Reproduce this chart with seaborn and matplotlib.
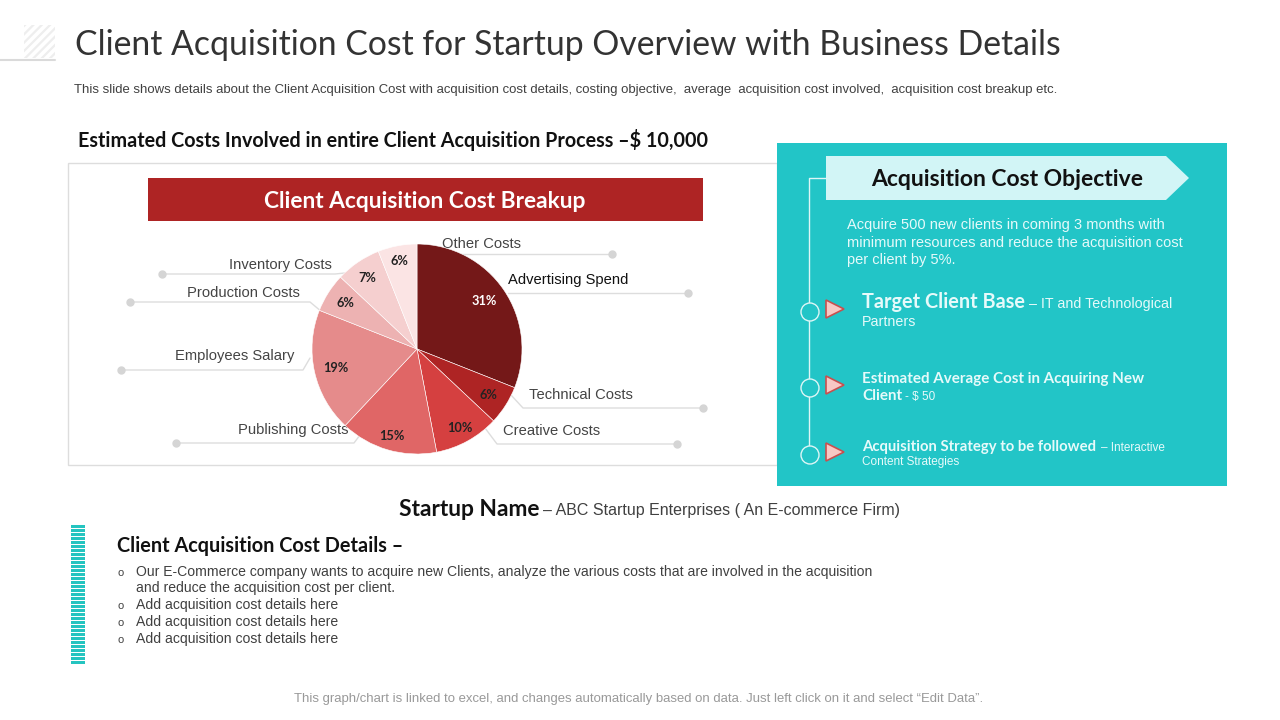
# libraries to use
import matplotlib
matplotlib.use('Agg')
import matplotlib.pyplot as plt
from matplotlib.patches import Rectangle, Polygon, Circle
import seaborn as sns

# Pie data
cost_labels = ['Advertising Spend', 'Technical Costs', 'Creative Costs', 'Publishing Costs',
               'Employees Salary', 'Production Costs', 'Inventory Costs', 'Other Costs']
cost_values = [31, 6, 10, 15, 19, 6, 7, 6]
pie_colors = ['#741818', '#AE2424', '#D54040', '#E06666', '#E58B8B', '#EDB2B2', '#F5CFCF', '#FBE4E4']
pct_colors = ['white', '#222222', '#222222', '#222222', '#222222', '#222222', '#222222', '#222222']
# Small shift of each percent label (pie units)
pct_nudge = [(-0.03, 0), (0, 0), (0.02, -0.04), (-0.01, -0.05), (0.02, 0), (0, 0), (-0.02, 0.01), (-0.02, 0.04)]

# Label position (x, y, ha) and leader line points, in slide pixels
label_spots = [(508, 280, 'left'), (529, 395, 'left'), (503, 431, 'left'), (349, 430, 'right'),
               (294, 356, 'right'), (300, 293, 'right'), (332, 265, 'right'), (442, 244, 'left')]
leaders = [[(508, 293), (688, 293)],
           [(511, 395), (523, 408), (703, 408)],
           [(485, 428), (497, 444), (677, 444)],
           [(360, 435), (354, 443), (176, 443)],
           [(310, 358), (303, 370), (121, 370)],
           [(322, 312), (310, 302), (130, 302)],
           [(345, 273), (335, 274), (162, 274)],
           [(455, 254), (612, 254)]]

title = 'Client Acquisition Cost for Startup Overview with Business Details'
subtitle = ('This slide shows details about the Client Acquisition Cost with acquisition cost details, costing objective, '
            ' average  acquisition cost involved,  acquisition cost breakup etc.')
estimate = 'Estimated Costs Involved in entire Client Acquisition Process –$ 10,000'
objective_lines = ['Acquire 500 new clients in coming 3 months with',
                   'minimum resources and reduce the acquisition cost',
                   'per client by 5%.']
detail_lines = [('o', 'Our E-Commerce company wants to acquire new Clients, analyze the various costs that are involved in the acquisition'),
                ('', 'and reduce the acquisition cost per client.'),
                ('o', 'Add acquisition cost details here'),
                ('o', 'Add acquisition cost details here'),
                ('o', 'Add acquisition cost details here')]
detail_y = [572, 588, 605, 622, 639]
footer = 'This graph/chart is linked to excel, and changes automatically based on data. Just left click on it and select “Edit Data”.'

TEAL = '#22C5C7'
HEAD = 'Lato'
BODY = 'Liberation Sans'

sns.set_theme(style='white')
plt.rcParams['hatch.linewidth'] = 1.6
plt.rcParams['hatch.color'] = '#EEEEEE'

fig = plt.figure(figsize=(12.8, 7.2), dpi=100, facecolor='white')
# Slide canvas in pixel units
ax = fig.add_axes([0, 0, 1, 1])
ax.set_xlim(0, 1280)
ax.set_ylim(720, 0)
ax.axis('off')

# Header
ax.add_patch(Rectangle((24, 25), 31, 33, facecolor='white', edgecolor='#EEEEEE', hatch='////', lw=0))
ax.plot([0, 55], [60, 60], color='#DADADA', lw=1.5)
ax.text(75, 45, title, family=HEAD, fontsize=24.3, color='#333333', va='center')
ax.text(74, 90, subtitle, family=BODY, fontsize=9.43, color='#404040', va='center')
ax.text(78, 140, estimate, family=HEAD, fontsize=14.2, weight='bold', color='#111111', va='center')

# Chart frame and banner
ax.add_patch(Rectangle((68, 163), 709, 302, facecolor='white', edgecolor='#DDDDDD', lw=1))
ax.add_patch(Rectangle((148, 178), 555, 43, facecolor='#AE2424', edgecolor='none'))
ax.text(425, 201, 'Client Acquisition Cost Breakup', family=HEAD, fontsize=16.4, weight='bold',
        color='white', ha='center', va='center')

# Leader lines and labels
for pts, spot, name in zip(leaders, label_spots, cost_labels):
    xs = [p[0] for p in pts]
    ys = [p[1] for p in pts]
    ax.plot(xs, ys, color='#DDDDDD', lw=1, zorder=2)
    ax.plot(xs[-1], ys[-1], 'o', color='#D5D5D5', ms=5, zorder=2)
    text_color = '#111111' if name == 'Advertising Spend' else '#444444'
    ax.text(spot[0], spot[1], name, family=BODY, fontsize=10.6, color=text_color, ha=spot[2], va='center', zorder=5)

# Pie chart
pie_ax = fig.add_axes([(417 - 105) / 1280, (720 - 349 - 105) / 720, 210 / 1280, 210 / 720])
pie_ax.patch.set_alpha(0)
wedges, _, pcts = pie_ax.pie(cost_values, colors=pie_colors, startangle=90, counterclock=False, radius=1,
                             autopct='%d%%', pctdistance=0.81,
                             wedgeprops={'edgecolor': 'white', 'linewidth': 0.4})
for pct, c, nudge in zip(pcts, pct_colors, pct_nudge):
    pct.set_color(c)
    pct.set_fontsize(9.2)
    pct.set_fontweight('bold')
    pct.set_family(HEAD)
    x0, y0 = pct.get_position()
    pct.set_position((x0 + nudge[0], y0 + nudge[1]))
pie_ax.set_xlim(-1, 1)
pie_ax.set_ylim(-1, 1)

# Objective panel
ax.add_patch(Rectangle((777, 143), 450, 343, facecolor=TEAL, edgecolor='none'))
ax.plot([826, 809, 809], [178, 178, 446], color='#DDF6F6', lw=1)
ax.add_patch(Polygon([(826, 156), (1166, 156), (1189, 178), (1166, 200), (826, 200)], facecolor='#D2F5F6', edgecolor='none'))
ax.text(1007, 180, 'Acquisition Cost Objective', family=HEAD, fontsize=16.5, weight='bold', color='#111111', ha='center', va='center')
for i, line in enumerate(objective_lines):
    ax.text(847, 225 + i * 17.5, line, family=BODY, fontsize=10.55, color='#E6FAFA', va='center')
for cy in [312, 388, 455]:
    ax.add_patch(Circle((810, cy), 9, facecolor=TEAL, edgecolor='#DDF6F6', lw=1, zorder=3))
    ty = cy - 3
    ax.add_patch(Polygon([(826, ty - 9), (844, ty), (826, ty + 9)], facecolor='#F8C8C4', edgecolor='#C8504F', lw=1.2, zorder=3))

ax.text(862, 302, 'Target Client Base', family=HEAD, fontsize=14.3, weight='bold', color='#E6FAFA', va='center')
ax.text(1029, 304, '– IT and Technological', family=BODY, fontsize=10.3, color='#E6FAFA', va='center')
ax.text(862, 322, 'Partners', family=BODY, fontsize=10.3, color='#E6FAFA', va='center')
ax.text(862, 379, 'Estimated Average Cost in Acquiring New', family=HEAD, fontsize=10.9, weight='bold', color='#E6FAFA', va='center')
ax.text(862, 396, 'Client', family=HEAD, fontsize=10.9, weight='bold', color='#E6FAFA', va='center')
ax.text(905, 397, '- $ 50', family=BODY, fontsize=8.5, color='#E6FAFA', va='center')
ax.text(862, 447, 'Acquisition Strategy to be followed', family=HEAD, fontsize=10.7, weight='bold', color='#E6FAFA', va='center')
ax.text(1101, 448, '– Interactive', family=BODY, fontsize=8.5, color='#E6FAFA', va='center')
ax.text(862, 462, 'Content Strategies', family=BODY, fontsize=8.5, color='#E6FAFA', va='center')

# Startup name line
ax.text(399, 510, 'Startup Name', family=HEAD, fontsize=16.4, weight='bold', color='#111111', va='center')
ax.text(543, 511, '– ABC Startup Enterprises ( An E-commerce Firm)', family=BODY, fontsize=11.55, color='#404040', va='center')

# Striped side bar
for y in range(525, 664, 4):
    ax.add_patch(Rectangle((71, y), 14, 3.2, facecolor='#25C4C0', edgecolor='none'))

# Details block
ax.text(117, 546, 'Client Acquisition Cost Details –', family=HEAD, fontsize=14.3, weight='bold', color='#111111', va='center')
for (mark, line), y in zip(detail_lines, detail_y):
    if mark:
        ax.text(118, y + 1, mark, family=BODY, fontsize=8, color='#404040', va='center')
    ax.text(136, y, line, family=BODY, fontsize=10.07, color='#404040', va='center')

ax.text(639, 699, footer, family=BODY, fontsize=9.45, color='#999999', ha='center', va='center')

fig.savefig('out.png', dpi=100)
